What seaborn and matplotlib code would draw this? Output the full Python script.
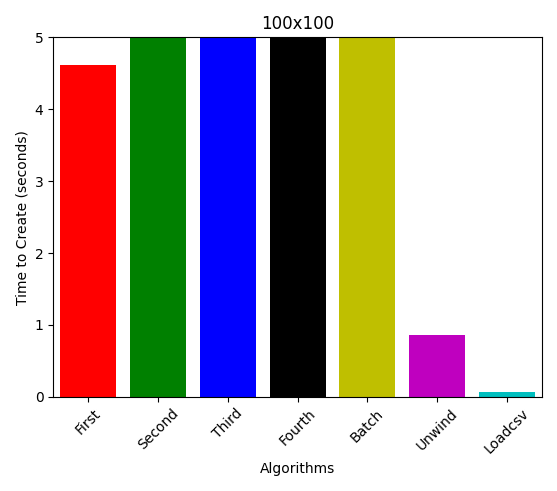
import matplotlib
matplotlib.use("Agg")
import matplotlib.pyplot as plt
import seaborn as sns
import pandas as pd

algorithms = ["First", "Second", "Third", "Fourth", "Batch", "Unwind", "Loadcsv"]
times = [4.61, 6.5, 7.0, 8.0, 6.0, 0.86, 0.07]
colors = ["r", "g", "b", "k", "y", "m", "c"]

df = pd.DataFrame({"alg": algorithms, "t": times})
fig, ax = plt.subplots(figsize=(5.57, 4.91), dpi=100)
sns.barplot(data=df, x="alg", y="t", hue="alg", palette=colors, legend=False,
            saturation=1, width=0.8, ax=ax)
ax.set_ylim(0, 5)
ax.set_xlim(-0.5, 6.5)
ax.set_title("100x100")
ax.set_xlabel("Algorithms")
ax.set_ylabel("Time to Create (seconds)")
plt.xticks(rotation=45)
plt.tight_layout()
fig.savefig("out.png", dpi=100)
